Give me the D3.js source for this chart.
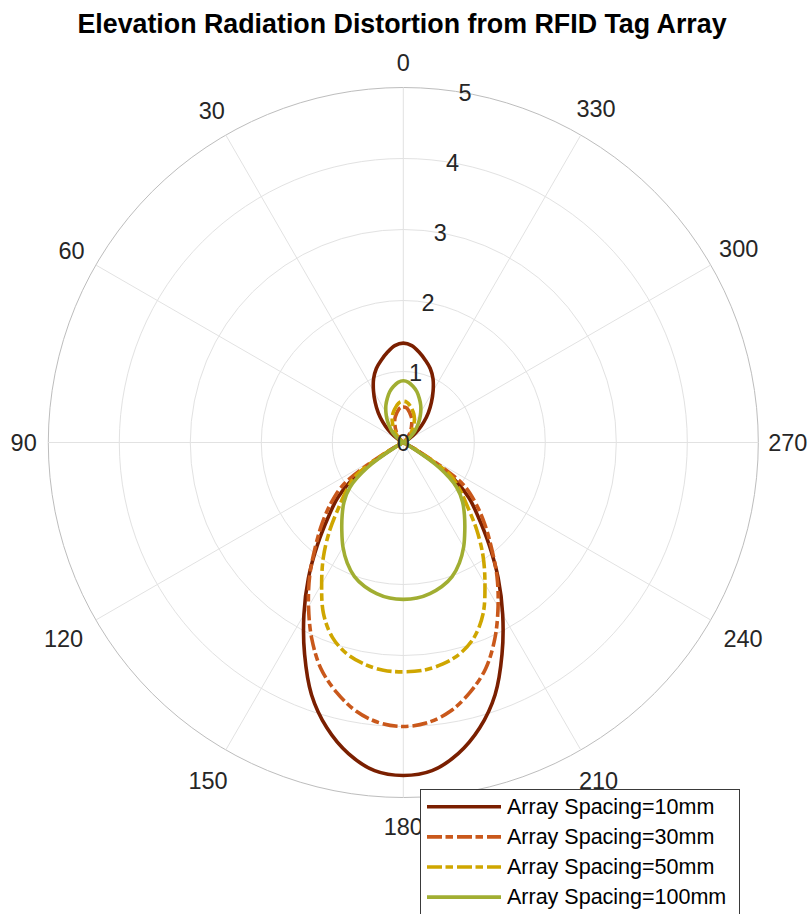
<!DOCTYPE html>
<html><head><meta charset="utf-8">
<script src="https://cdn.jsdelivr.net/npm/d3@7"></script>
<style>
body{margin:0;background:#fff}
text{font-family:"Liberation Sans", Arial, Helvetica, sans-serif}
</style>
</head><body>
<svg id="chart" width="811" height="914"></svg>
<script>
// ---- data ----
const titleText = "Elevation Radiation Distortion from RFID Tag Array";
const thetaDeg = [0,5,10,15,20,25,30,35,40,45,50,55,60,65,70,75,80,85,90,95,100,105,110,115,
  120,125,130,135,140,145,150,155,160,165,170,175,180,185,190,195,200,205,210,215,220,225,230,235,
  240,245,250,255,260,265,270,275,280,285,290,295,300,305,310,315,320,325,330,335,340,345,350,355];
const spacing10 = [1.40,1.37,1.29,1.20,1.11,0.99,0.84,0.69,0.55,0.41,0.28,0.16,0.05,0,0,0,0,0,0,0,0,0,0,0,
  0.15,0.80,1.20,1.50,1.88,2.33,2.80,3.29,3.78,4.16,4.45,4.64,4.69,4.64,4.45,4.16,3.78,3.29,2.80,2.33,
  1.88,1.50,1.20,0.80,0.15,0,0,0,0,0,0,0,0,0,0,0,0.05,0.16,0.28,0.41,0.55,0.69,0.84,0.99,1.11,1.20,1.29,1.37];
const spacing30 = [0.50,0.49,0.45,0.40,0.35,0.28,0.22,0.16,0.10,0.05,0.02,0,0,0,0,0,0,0,0,0,0,0,0,0,
  0.30,1.02,1.33,1.62,1.93,2.30,2.67,3.05,3.39,3.64,3.84,3.96,4.00,3.96,3.84,3.64,3.39,3.05,2.67,2.30,
  1.93,1.62,1.33,1.02,0.30,0,0,0,0,0,0,0,0,0,0,0,0,0,0.02,0.05,0.10,0.16,0.22,0.28,0.35,0.40,0.45,0.49];
const spacing50 = [0.58,0.57,0.53,0.48,0.43,0.37,0.30,0.23,0.16,0.10,0.05,0.01,0,0,0,0,0,0,0,0,0,0,0,0,
  0.25,0.82,1.04,1.28,1.61,1.96,2.30,2.66,2.92,3.08,3.17,3.22,3.23,3.22,3.17,3.08,2.92,2.66,2.30,1.96,
  1.61,1.28,1.04,0.82,0.25,0,0,0,0,0,0,0,0,0,0,0,0,0.01,0.05,0.10,0.16,0.23,0.30,0.37,0.43,0.48,0.53,0.57];
const spacing100 = [0.87,0.85,0.80,0.74,0.66,0.58,0.49,0.40,0.31,0.23,0.15,0.08,0.02,0,0,0,0,0,0,0,0,0,0,0,
  0.10,0.62,0.98,1.18,1.34,1.51,1.70,1.87,2.01,2.10,2.16,2.20,2.21,2.20,2.16,2.10,2.01,1.87,1.70,1.51,
  1.34,1.18,0.98,0.62,0.10,0,0,0,0,0,0,0,0,0,0,0,0.02,0.08,0.15,0.23,0.31,0.40,0.49,0.58,0.66,0.74,0.80,0.85];
const seriesNames = ["Array Spacing=10mm","Array Spacing=30mm","Array Spacing=50mm","Array Spacing=100mm"];
const angleTicks = [0,30,60,90,120,150,180,210,240,270,300,330];
const radialTicks = [0,1,2,3,4,5];

// ---- layout / style ----
const cx = 403.3, cy = 442.5, R = 355;
const colors = ["#7a1f00","#c9581b","#cfa600","#a1ae32"];
const dashes = [null,"15,3.5,7.5,4","15,3.5,7.5,4",null];
const seriesVals = [spacing10, spacing30, spacing50, spacing100];

const svg = d3.select("#chart");
const rScale = d3.scaleLinear().domain([0,5]).range([0,R]);
// theta counter-clockwise from top -> d3 radial angle (clockwise)
const aScale = d3.scaleLinear().domain([0,360]).range([0,-2*Math.PI]);

const g = svg.append("g").attr("transform",`translate(${cx},${cy})`);

// grid circles
g.selectAll("circle.grid").data(radialTicks.filter(d=>d>0)).enter().append("circle")
  .attr("r",d=>rScale(d)).attr("fill","none")
  .attr("stroke",d=>d===5?"#bdbdbd":"#e2e2e2").attr("stroke-width",1);
// spokes
g.selectAll("line.spoke").data(angleTicks).enter().append("line")
  .attr("x1",0).attr("y1",0)
  .attr("x2",d=>R*Math.sin(aScale(d))).attr("y2",d=>-R*Math.cos(aScale(d)))
  .attr("stroke","#e2e2e2").attr("stroke-width",1);

// angle labels
const fsA = 23.5;
angleTicks.forEach(t=>{
  const a = aScale(t);
  const dx = Math.sin(a), dy = -Math.cos(a);
  const txt = String(t);
  const w = txt.length*fsA*0.556;
  const d = 370 + 9.5*Math.abs(dy) + 0.74*(w/2)*Math.abs(dx) + (dy>0.1?5:0);
  g.append("text").attr("x",d*dx).attr("y",d*dy).attr("text-anchor","middle")
    .attr("dominant-baseline","central").attr("font-size",fsA).attr("fill","#262626").text(txt);
});

// curves
const lineGen = d3.lineRadial()
  .angle(d=>aScale(d[0])).radius(d=>rScale(d[1]))
  .curve(d3.curveCatmullRomClosed.alpha(0.5));
seriesVals.forEach((vals,i)=>{
  const pts = thetaDeg.map((t,j)=>[t,vals[j]]);
  g.append("path").attr("d",lineGen(pts)).attr("fill","none")
    .attr("stroke",colors[i]).attr("stroke-width",3.6)
    .attr("stroke-linejoin","round")
    .attr("stroke-dasharray",dashes[i]);
});

// radial tick labels (at theta = 350)
radialTicks.forEach(v=>{
  const a = aScale(350);
  g.append("text").attr("x",rScale(v)*Math.sin(a)).attr("y",-rScale(v)*Math.cos(a))
    .attr("text-anchor","middle").attr("dominant-baseline","central")
    .attr("font-size",fsA).attr("fill","#262626").text(v);
});

// title
svg.append("text").attr("x",402).attr("y",33).attr("text-anchor","middle")
  .attr("font-size",26.8).attr("font-weight","bold").attr("fill","#000").text(titleText);

// legend
const lg = svg.append("g");
lg.append("rect").attr("x",420.5).attr("y",789.5).attr("width",319).attr("height",160)
  .attr("fill","#fff").attr("stroke","#3a3a3a").attr("stroke-width",1);
seriesNames.forEach((n,i)=>{
  const y = 806.8 + i*30.1;
  lg.append("line").attr("x1",427).attr("x2",501).attr("y1",y).attr("y2",y)
    .attr("stroke",colors[i]).attr("stroke-width",3.6).attr("stroke-dasharray",dashes[i]);
  lg.append("text").attr("x",507).attr("y",y).attr("dominant-baseline","central")
    .attr("font-size",21.5).attr("fill","#000").text(n);
});
</script>
</body></html>
